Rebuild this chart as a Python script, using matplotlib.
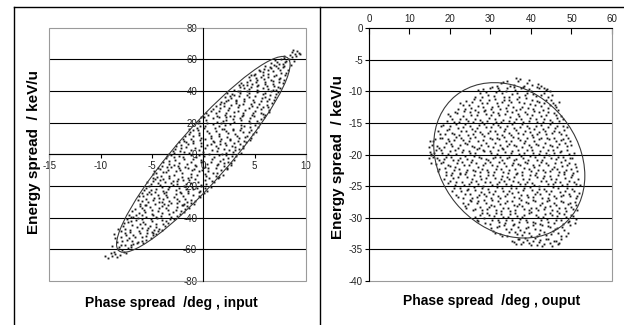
import numpy as np
import matplotlib
matplotlib.use("Agg")
import matplotlib.pyplot as plt
from matplotlib.patches import Ellipse, Rectangle
from matplotlib.lines import Line2D
from matplotlib.transforms import Affine2D

plt.rcParams["font.family"] = ["Liberation Sans", "DejaVu Sans"]
plt.rcParams["axes.unicode_minus"] = False

# ---- data ----------------------------------------------------------------
# input phase space: (phase spread deg, energy spread keV/u)
INPUT_POINTS = [
    (-7.9, -60.5), (-7.3, -59.0), (-8.2, -58.3), (-7.0, -57.2), (-7.7, -61.4), (-6.8, -56.5),
    (-8.9, -64.2), (-8.6, -63.0), (-9.3, -65.1), (-8.1, -63.6), (-8.7, -61.8), (-8.4, -55.5),
    (-8.6, -52.5), (-8.9, -57.8), (-8.7, -50.2), (-8.3, -47.1),
    (-7.9, -54.6), (-6.4, -55.1), (-5.6, -53.8), (-7.2, -53.0), (-8.0, -51.9), (-6.0, -52.3),
    (-4.9, -51.0), (-6.8, -50.6), (-7.6, -49.3), (-5.5, -49.8), (-4.4, -48.6), (-6.3, -48.4),
    (-5.9, -56.0), (-4.9, -49.9),
    (-7.6, -47.0), (-6.0, -46.6), (-4.3, -46.9), (-3.7, -45.4), (-5.2, -45.0), (-6.9, -44.8),
    (-7.7, -43.6), (-4.6, -43.9), (-3.4, -43.0), (-5.9, -42.6), (-7.0, -41.9), (-4.0, -41.5),
    (-2.9, -40.6), (-5.1, -40.9), (-6.4, -40.2), (-7.4, -40.8), (-4.0, -47.8), (-5.5, -47.7),
    (-6.8, -39.2), (-5.6, -39.5), (-4.1, -38.8), (-2.6, -38.9), (-3.3, -37.6), (-5.0, -37.4),
    (-6.3, -37.0), (-7.2, -38.0), (-1.9, -36.5), (-4.4, -35.9), (-5.8, -35.3), (-6.7, -34.6),
    (-2.7, -34.9), (-3.6, -34.0), (-1.4, -33.8), (-5.2, -33.2), (-6.2, -32.4), (-4.0, -32.6),
    (-2.1, -32.1), (-3.0, -36.2),
    (-6.2, -31.4), (-4.7, -31.0), (-3.1, -30.8), (-1.2, -30.5), (-0.8, -29.2), (-2.4, -29.6),
    (-5.4, -29.8), (-6.4, -28.7), (-3.9, -28.4), (-1.8, -27.9), (-0.3, -27.0), (-4.8, -27.3),
    (-5.9, -26.5), (-2.9, -26.8), (-1.0, -25.9), (-3.6, -25.4), (-5.1, -24.9), (-6.0, -24.3),
    (0.1, -24.6), (-2.2, -24.2), (-4.3, -30.2), (-2.0, -31.8),
    (-5.3, -23.5), (-3.9, -23.0), (-1.5, -23.2), (0.4, -22.8), (-2.7, -22.3), (-4.6, -21.7),
    (-0.6, -21.4), (-5.6, -20.9), (-3.3, -20.7), (-1.9, -20.1), (0.7, -20.4), (-4.2, -19.6),
    (-0.2, -19.0), (-5.1, -18.7), (-2.6, -18.5), (-1.2, -17.8), (1.0, -17.6), (-3.7, -17.2),
    (-4.9, -16.6), (-2.0, -16.4), (0.2, -16.2), (-5.8, -22.6), (-3.0, -16.9), (-1.0, -22.0),
    (-4.7, -15.6), (-3.3, -15.2), (-0.8, -15.4), (1.4, -15.0), (-2.1, -14.5), (-4.1, -13.9),
    (0.3, -13.6), (1.9, -12.9), (-2.9, -12.8), (-1.2, -12.3), (-4.6, -11.8), (0.9, -11.5),
    (-3.6, -10.9), (-0.4, -10.6), (1.7, -10.0), (-2.3, -9.9), (-4.2, -9.3), (-1.5, -8.8),
    (0.5, -8.5), (2.3, -8.3), (-3.1, -8.2), (-4.9, -14.8), (-0.1, -9.7), (1.2, -13.8),
    (-4.0, -7.6), (-2.5, -7.2), (-0.7, -7.4), (1.3, -7.0), (2.7, -6.7), (-3.3, -6.1),
    (-1.6, -5.8), (0.4, -5.9), (2.0, -5.4), (-3.9, -5.0), (-0.2, -4.6), (1.6, -4.1),
    (3.0, -3.6), (-2.8, -3.8), (-1.0, -3.2), (0.8, -2.8), (-3.6, -2.3), (2.4, -2.0),
    (-2.0, -1.6), (0.1, -1.2), (1.5, -0.6), (-3.1, -0.4), (3.2, -0.8), (-1.2, -0.3),
    (-2.9, 0.6), (-1.4, 0.9), (0.6, 0.5), (2.2, 1.1), (3.7, 0.8), (-2.3, 2.2),
    (-0.4, 2.6), (1.3, 2.1), (3.1, 2.8), (-2.8, 3.4), (0.2, 3.9), (2.0, 3.6),
    (3.9, 4.3), (-1.7, 4.6), (-0.2, 5.2), (1.2, 5.0), (2.8, 5.5), (-2.2, 6.0),
    (0.7, 6.4), (3.6, 6.7), (-1.0, 7.2), (2.1, 7.0), (-2.4, 7.7), (1.0, 7.8),
    (-1.9, 8.4), (-0.3, 8.8), (1.6, 8.2), (3.4, 8.6), (4.5, 9.1), (-1.2, 9.9),
    (0.7, 10.2), (2.6, 10.0), (4.1, 10.7), (-1.8, 11.3), (1.5, 11.6), (3.3, 11.9),
    (-0.4, 12.5), (4.8, 12.8), (0.6, 13.2), (2.4, 13.5), (-1.3, 14.0), (3.9, 14.3),
    (1.2, 14.8), (-0.5, 15.4), (2.9, 15.1), (4.6, 15.7), (-1.4, 15.9), (0.2, 9.5),
    (-0.6, 16.5), (1.1, 16.8), (2.9, 16.3), (4.5, 17.0), (5.3, 17.5), (0.2, 18.1),
    (2.1, 18.5), (3.7, 18.8), (-0.5, 19.5), (5.4, 19.9), (1.3, 20.3), (3.0, 20.6),
    (4.4, 21.2), (0.3, 21.8), (2.2, 22.0), (5.6, 22.6), (-0.2, 23.3), (3.6, 23.0),
    (1.5, 23.7), (4.9, 24.0), (0.9, 19.0), (2.6, 24.0),
    (0.5, 24.6), (2.1, 25.0), (3.9, 24.8), (5.8, 25.3), (1.2, 26.3), (3.0, 26.6),
    (4.8, 26.1), (6.4, 27.0), (0.7, 27.5), (2.4, 27.9), (4.1, 28.3), (5.6, 28.7),
    (1.6, 29.4), (3.4, 29.8), (6.3, 30.2), (4.7, 30.6), (1.2, 30.8), (2.7, 31.2),
    (5.4, 31.6), (3.9, 32.0), (6.7, 32.3), (2.0, 32.5),
    (1.7, 33.2), (3.2, 33.4), (4.9, 33.0), (6.2, 33.8), (2.4, 34.6), (4.0, 35.0),
    (5.7, 35.3), (7.0, 35.9), (2.1, 36.3), (3.5, 36.8), (5.0, 37.0), (6.5, 37.4),
    (2.8, 38.2), (4.4, 38.6), (6.0, 38.9), (7.3, 39.5), (3.4, 39.8), (5.3, 40.0),
    (2.3, 38.9),
    (3.0, 40.6), (4.4, 41.0), (6.3, 41.3), (7.5, 41.8), (3.6, 42.5), (5.2, 42.9),
    (6.9, 43.2), (4.3, 44.0), (6.0, 44.5), (7.8, 44.8), (3.7, 45.3), (5.1, 45.8),
    (6.8, 46.2), (4.5, 47.0), (5.9, 47.4), (7.4, 47.8), (3.9, 43.7), (7.1, 40.4),
    (4.4, 48.6), (5.6, 49.0), (6.9, 49.3), (8.0, 49.8), (5.0, 50.6), (6.3, 51.0),
    (7.6, 51.4), (5.5, 52.4), (6.8, 52.9), (8.2, 53.2), (5.9, 54.0), (7.3, 54.5),
    (6.5, 55.4), (7.9, 55.8), (4.9, 49.9),
    (6.9, 56.6), (7.8, 57.3), (7.2, 58.5), (8.1, 59.0), (7.6, 60.3), (6.6, 57.8),
    (8.6, 61.5), (8.9, 63.4), (9.1, 65.0), (8.4, 62.8), (8.8, 58.9), (9.3, 64.1),
    (8.7, 66.0), (7.9, 62.3), (8.5, 56.6),
    # second pass over the cloud
    (-7.5, -62.0), (-8.3, -59.6), (-7.0, -58.4), (-7.6, -56.9), (-6.5, -55.6), (-8.0, -57.1),
    (-7.4, -54.2), (-6.0, -54.6), (-5.1, -52.8), (-6.7, -52.1), (-7.5, -50.9), (-5.6, -51.3),
    (-4.6, -50.2), (-6.2, -49.6), (-7.1, -48.7), (-5.0, -48.9), (-8.0, -48.2), (-6.9, -54.9),
    (-7.1, -47.6), (-5.4, -46.2), (-6.5, -45.6), (-4.6, -45.6), (-3.9, -44.2), (-6.2, -43.9),
    (-7.3, -42.8), (-5.0, -42.3), (-3.6, -41.9), (-6.6, -41.3), (-4.5, -40.4), (-3.2, -41.0),
    (-7.8, -45.0), (-5.7, -44.0), (-4.8, -47.4), (-6.0, -41.0),
    (-7.0, -39.8), (-6.0, -38.5), (-4.6, -39.3), (-3.1, -39.6), (-2.3, -37.4), (-4.0, -37.0),
    (-5.7, -36.6), (-6.9, -36.0), (-3.4, -35.4), (-5.0, -34.8), (-1.8, -34.6), (-6.0, -33.9),
    (-4.3, -33.6), (-2.6, -33.1), (-1.6, -32.6), (-5.6, -32.0), (-3.4, -32.2), (-2.2, -35.8),
    (-6.6, -38.2), (-4.9, -38.1),
    (-5.7, -31.7), (-3.8, -31.3), (-2.6, -30.9), (-0.9, -31.0), (-1.6, -29.9), (-3.3, -29.4),
    (-4.9, -29.0), (-6.0, -29.5), (-5.6, -27.9), (-4.3, -27.8), (-2.6, -28.2), (-1.2, -28.6),
    (-0.4, -26.1), (-2.0, -26.3), (-3.5, -26.7), (-4.4, -25.8), (-5.5, -25.2), (-6.3, -26.1),
    (-2.7, -25.0), (-1.5, -24.5), (-0.4, -24.0), (-3.8, -24.3), (-4.0, -30.0), (-1.9, -31.2),
    (-4.7, -23.8), (-2.3, -23.6), (-0.3, -23.4), (-3.4, -22.0), (-5.1, -22.3), (-1.7, -21.8),
    (0.2, -21.2), (-2.4, -21.0), (-4.0, -20.4), (-5.3, -20.0), (-1.1, -20.6), (-3.0, -19.5),
    (0.3, -18.5), (-1.7, -18.9), (-4.4, -18.2), (-3.1, -18.0), (-0.5, -17.2), (-5.5, -17.6),
    (-2.6, -17.0), (-4.2, -16.2), (-1.4, -16.0), (0.8, -16.6), (-3.6, -23.9), (-0.2, -20.0),
    (-3.9, -15.8), (-2.5, -15.6), (-1.5, -15.1), (0.6, -14.8), (-4.5, -14.3), (-1.2, -14.1),
    (1.5, -14.0), (-3.3, -13.5), (-0.6, -13.2), (-4.9, -12.6), (-2.1, -12.0), (0.2, -12.4),
    (1.3, -11.9), (-3.9, -11.2), (-2.7, -10.6), (0.5, -10.3), (-1.1, -10.1), (-4.8, -10.2),
    (2.3, -9.4), (-3.4, -9.6), (-0.9, -9.2), (1.2, -8.8), (-2.4, -8.4), (-4.4, -8.5),
    (-3.5, -7.9), (-1.8, -7.8), (0.2, -7.7), (2.0, -7.4), (-2.9, -6.6), (-0.8, -6.4),
    (1.4, -6.2), (2.7, -5.6), (-2.4, -5.3), (-1.2, -4.8), (0.7, -4.7), (2.4, -4.5),
    (-3.3, -4.2), (-1.9, -3.0), (-0.2, -3.5), (1.9, -3.0), (-2.9, -1.8), (-0.7, -1.9),
    (1.0, -1.5), (2.8, -1.2), (-3.5, -1.1), (-0.4, -0.5), (2.2, -0.2), (-2.4, -0.8),
    (-3.3, 0.3), (-1.9, 1.4), (0.0, 1.2), (1.8, 0.3), (2.9, 1.6), (-3.0, 1.9),
    (-1.2, 2.9), (0.8, 2.9), (2.5, 2.5), (3.5, 3.3), (-2.2, 3.8), (-0.8, 4.1),
    (1.4, 4.2), (3.1, 4.5), (-2.7, 5.2), (0.4, 5.7), (2.2, 5.9), (3.9, 5.6),
    (-1.5, 6.5), (1.6, 6.6), (-0.2, 7.4), (3.0, 7.5), (4.2, 7.9), (-1.7, 7.9),
    (-1.0, 8.2), (0.9, 8.6), (2.6, 8.9), (4.0, 8.3), (-2.0, 9.6), (-0.2, 10.4),
    (1.7, 9.6), (3.5, 10.1), (4.6, 10.4), (-1.0, 11.5), (0.7, 11.9), (2.3, 11.2),
    (4.3, 11.7), (-1.4, 12.9), (1.5, 12.9), (3.1, 13.0), (5.1, 13.9), (-0.4, 13.7),
    (0.4, 14.9), (2.2, 14.6), (3.6, 15.3), (-1.0, 15.2), (1.8, 15.9), (4.4, 14.3),
    (0.1, 16.9), (2.0, 16.1), (3.7, 16.6), (-0.3, 17.6), (1.5, 17.7), (4.0, 17.9),
    (5.0, 18.4), (0.4, 19.5), (2.6, 19.3), (4.5, 19.6), (-0.4, 20.8), (1.9, 21.0),
    (3.7, 21.6), (5.2, 21.3), (0.9, 22.7), (2.9, 22.6), (4.5, 22.9), (0.1, 23.6),
    (2.2, 23.9), (3.8, 24.0), (5.9, 23.8), (1.7, 19.9),
    (1.3, 24.4), (3.0, 24.2), (4.7, 24.9), (6.0, 24.6), (0.3, 25.9), (2.2, 26.0),
    (3.9, 25.9), (5.6, 26.4), (1.5, 27.2), (3.4, 27.4), (5.0, 27.6), (6.4, 28.2),
    (0.9, 28.9), (2.5, 29.0), (4.4, 29.3), (5.8, 29.8), (2.0, 30.4), (3.5, 30.9),
    (5.2, 30.1), (6.2, 31.2), (1.6, 31.5), (4.6, 31.8), (3.2, 32.3),
    (2.2, 33.6), (4.0, 33.8), (5.6, 33.5), (6.9, 34.3), (3.2, 34.5), (4.8, 34.3),
    (6.4, 35.0), (2.7, 35.6), (4.4, 35.9), (6.0, 36.3), (3.0, 37.3), (4.3, 37.6),
    (5.8, 37.8), (7.1, 38.3), (3.6, 38.9), (5.2, 39.1), (6.6, 39.8), (4.3, 39.7),
    (2.6, 37.0),
    (3.6, 40.3), (5.2, 40.7), (6.8, 40.9), (4.0, 41.7), (5.8, 42.1), (7.3, 42.6),
    (4.6, 42.8), (3.5, 43.9), (5.3, 44.0), (6.8, 44.6), (7.4, 45.6), (4.3, 45.9),
    (6.0, 45.9), (5.2, 47.1), (6.6, 47.0), (7.9, 46.9), (4.7, 44.7), (6.2, 43.2),
    (5.1, 48.3), (6.3, 48.7), (7.5, 48.5), (4.6, 50.1), (5.8, 50.2), (7.1, 50.4),
    (8.1, 51.6), (5.8, 51.7), (6.3, 53.4), (7.5, 53.1), (5.4, 53.3), (6.6, 54.6),
    (7.8, 54.9), (7.1, 56.0), (6.0, 55.7),
    (7.4, 56.9), (8.0, 58.0), (7.0, 59.4), (7.9, 61.0), (8.3, 60.2),
    (9.0, 62.0), (8.6, 64.6), (9.4, 63.2), (-9.0, -62.5), (-9.6, -64.0), (-8.4, -64.6),
]

# output phase space
OUTPUT_POINTS = [
    (32.5, -8.7), (34.1, -8.3), (35.8, -8.9), (37.2, -8.1), (38.9, -8.6), (40.3, -9.0),
    (41.7, -8.8), (43.2, -9.4), (36.4, -7.9),
    (26.3, -10.8), (27.4, -10.2), (28.2, -9.6), (29.5, -10.6), (30.3, -9.3), (31.4, -10.1),
    (32.2, -9.8), (33.3, -10.9), (34.0, -9.4), (35.2, -10.4), (36.1, -9.7), (37.0, -10.8),
    (38.2, -9.2), (39.1, -10.3), (40.0, -9.9), (41.2, -10.7), (42.0, -9.5), (43.1, -10.2),
    (44.2, -10.9), (44.8, -9.9),
    (22.1, -12.8), (23.2, -12.1), (24.0, -11.5), (25.1, -12.6), (25.9, -11.2), (26.8, -12.3),
    (27.9, -11.8), (28.6, -12.9), (29.7, -11.4), (30.5, -12.4), (31.6, -11.9), (32.3, -12.7),
    (33.4, -11.3), (34.3, -12.2), (35.1, -11.7), (36.2, -12.9), (37.0, -11.6), (37.9, -12.4),
    (38.8, -11.1), (39.8, -12.0), (40.6, -12.8), (41.5, -11.5), (42.4, -12.3), (43.3, -11.8),
    (44.2, -12.6), (45.0, -11.3), (45.9, -12.1), (46.6, -12.9),
    (19.2, -14.6), (20.0, -13.9), (20.9, -14.9), (21.8, -13.4), (22.6, -14.3), (23.5, -13.1),
    (24.5, -14.7), (25.3, -13.8), (26.1, -14.4), (27.0, -13.2), (27.9, -14.9), (28.8, -13.6),
    (29.6, -14.2), (30.6, -13.3), (31.4, -14.8), (32.2, -13.7), (33.2, -14.5), (34.1, -13.1),
    (34.9, -14.1), (35.9, -14.8), (36.7, -13.5), (37.6, -14.3), (38.5, -13.2), (39.4, -14.7),
    (40.3, -13.8), (41.2, -14.4), (42.0, -13.3), (42.9, -14.9), (43.8, -13.7), (44.8, -14.5),
    (45.6, -13.4), (46.5, -14.2), (47.4, -13.9),
    (17.1, -16.2), (17.9, -15.5), (18.8, -16.8), (19.7, -15.9), (20.5, -16.5), (21.4, -15.2),
    (22.3, -16.9), (23.1, -15.7), (24.0, -16.3), (24.9, -15.4), (25.8, -16.7), (26.6, -15.8),
    (27.5, -16.4), (28.4, -15.1), (29.3, -16.6), (30.2, -15.6), (31.0, -16.2), (31.9, -15.3),
    (32.8, -16.9), (33.7, -15.9), (34.6, -16.5), (35.4, -15.2), (36.3, -16.1), (37.2, -15.7),
    (38.1, -16.8), (39.0, -15.4), (39.8, -16.4), (40.7, -15.9), (41.6, -16.7), (42.5, -15.3),
    (43.4, -16.2), (44.3, -15.6), (45.1, -16.6), (46.0, -15.8), (46.9, -16.4), (47.8, -15.5),
    (48.6, -16.9),
    (15.6, -18.4), (16.3, -17.6), (17.2, -18.9), (18.0, -17.3), (18.9, -18.2), (19.8, -17.8),
    (20.6, -18.7), (21.5, -17.2), (22.4, -18.5), (23.3, -17.7), (24.1, -18.3), (25.0, -17.4),
    (25.9, -18.8), (26.8, -17.9), (27.6, -18.4), (28.5, -17.1), (29.4, -18.6), (30.3, -17.6),
    (31.2, -18.1), (32.0, -17.5), (32.9, -18.9), (33.8, -17.8), (34.7, -18.3), (35.6, -17.2),
    (36.4, -18.6), (37.3, -17.7), (38.2, -18.2), (39.1, -17.4), (40.0, -18.8), (40.8, -17.9),
    (41.7, -18.5), (42.6, -17.3), (43.5, -18.1), (44.4, -17.6), (45.2, -18.7), (46.1, -17.8),
    (47.0, -18.3), (47.9, -17.5), (48.8, -18.6), (49.6, -17.9),
    (15.1, -19.6), (15.8, -20.4), (16.5, -19.2), (17.3, -20.8), (18.1, -19.7), (19.0, -20.3),
    (19.9, -19.4), (20.7, -20.9), (21.6, -19.9), (22.4, -20.5), (23.3, -19.3), (24.2, -20.7),
    (25.0, -19.8), (25.9, -20.2), (26.7, -19.1), (27.6, -20.6), (28.5, -19.5), (29.3, -20.9),
    (30.2, -19.7), (31.1, -20.4), (31.9, -19.2), (32.8, -20.8), (33.7, -19.6), (34.5, -20.3),
    (35.4, -19.4), (36.3, -20.7), (37.1, -19.9), (38.0, -20.5), (38.9, -19.3), (39.7, -20.2),
    (40.6, -19.7), (41.5, -20.8), (42.3, -19.5), (43.2, -20.4), (44.1, -19.2), (44.9, -20.6),
    (45.8, -19.8), (46.7, -20.3), (47.5, -19.4), (48.4, -20.9), (49.3, -19.9), (50.2, -20.5),
    (16.6, -21.5), (17.4, -22.3), (18.3, -21.2), (19.1, -22.8), (20.0, -21.8), (20.9, -22.4),
    (21.7, -21.3), (22.6, -22.9), (23.5, -21.7), (24.3, -22.5), (25.2, -21.1), (26.1, -22.6),
    (26.9, -21.9), (27.8, -22.2), (28.7, -21.4), (29.5, -22.8), (30.4, -21.6), (31.3, -22.3),
    (32.1, -21.2), (33.0, -22.7), (33.9, -21.8), (34.7, -22.4), (35.6, -21.3), (36.5, -22.9),
    (37.3, -21.7), (38.2, -22.1), (39.1, -21.4), (39.9, -22.6), (40.8, -21.9), (41.7, -22.5),
    (42.5, -21.2), (43.4, -22.8), (44.3, -21.6), (45.1, -22.2), (46.0, -21.4), (46.9, -22.7),
    (47.7, -21.8), (48.6, -22.4), (49.5, -21.3), (50.3, -22.9), (51.2, -22.0),
    (18.6, -23.8), (19.5, -24.5), (20.3, -23.3), (21.2, -24.8), (22.1, -23.6), (22.9, -24.3),
    (23.8, -23.1), (24.7, -24.7), (25.5, -23.9), (26.4, -24.2), (27.3, -23.4), (28.1, -24.9),
    (29.0, -23.7), (29.9, -24.4), (30.7, -23.2), (31.6, -24.6), (32.5, -23.8), (33.3, -24.1),
    (34.2, -23.5), (35.1, -24.8), (35.9, -23.6), (36.8, -24.3), (37.7, -23.3), (38.5, -24.7),
    (39.4, -23.9), (40.3, -24.5), (41.1, -23.2), (42.0, -24.9), (42.9, -23.7), (43.7, -24.2),
    (44.6, -23.4), (45.5, -24.6), (46.3, -23.8), (47.2, -24.4), (48.1, -23.1), (48.9, -24.7),
    (49.8, -23.6), (50.7, -24.3), (51.5, -23.9), (52.0, -24.8),
    (20.6, -25.7), (21.5, -26.4), (22.4, -25.2), (23.2, -26.8), (24.1, -25.6), (25.0, -26.3),
    (25.9, -25.1), (26.7, -26.7), (27.6, -25.9), (28.5, -26.2), (29.3, -25.4), (30.2, -26.9),
    (31.1, -25.8), (31.9, -26.5), (32.8, -25.3), (33.7, -26.6), (34.5, -25.7), (35.4, -26.1),
    (36.3, -25.2), (37.1, -26.8), (38.0, -25.6), (38.9, -26.4), (39.7, -25.1), (40.6, -26.7),
    (41.5, -25.9), (42.3, -26.2), (43.2, -25.4), (44.1, -26.9), (44.9, -25.8), (45.8, -26.5),
    (46.7, -25.3), (47.5, -26.6), (48.4, -25.7), (49.3, -26.3), (50.1, -25.5), (51.0, -26.8),
    (51.8, -26.0),
    (23.1, -27.6), (24.0, -28.4), (24.9, -27.2), (25.7, -28.8), (26.6, -27.7), (27.5, -28.3),
    (28.3, -27.1), (29.2, -28.6), (30.1, -27.9), (30.9, -28.2), (31.8, -27.4), (32.7, -28.9),
    (33.5, -27.6), (34.4, -28.5), (35.3, -27.3), (36.1, -28.7), (37.0, -27.8), (37.9, -28.1),
    (38.7, -27.5), (39.6, -28.8), (40.5, -27.2), (41.3, -28.4), (42.2, -27.9), (43.1, -28.6),
    (43.9, -27.4), (44.8, -28.2), (45.7, -27.7), (46.5, -28.9), (47.4, -27.3), (48.3, -28.5),
    (49.1, -27.8), (50.0, -28.3), (50.9, -27.5), (51.4, -28.7),
    (26.1, -29.8), (27.0, -30.5), (27.9, -29.3), (28.7, -30.8), (29.6, -29.6), (30.5, -30.3),
    (31.3, -29.2), (32.2, -30.7), (33.1, -29.9), (33.9, -30.4), (34.8, -29.4), (35.7, -30.9),
    (36.5, -29.7), (37.4, -30.2), (38.3, -29.5), (39.1, -30.6), (40.0, -29.1), (40.9, -30.8),
    (41.7, -29.8), (42.6, -30.3), (43.5, -29.4), (44.3, -30.7), (45.2, -29.6), (46.1, -30.4),
    (46.9, -29.2), (47.8, -30.9), (48.7, -29.9), (49.5, -30.5), (50.4, -29.7), (51.0, -30.2),
    (30.2, -31.6), (31.1, -32.4), (32.0, -31.3), (32.9, -32.8), (33.8, -31.7), (34.7, -32.3),
    (35.6, -31.2), (36.5, -32.6), (37.4, -31.9), (38.3, -32.2), (39.2, -31.4), (40.1, -32.9),
    (41.0, -31.8), (41.9, -32.5), (42.8, -31.1), (43.7, -32.7), (44.6, -31.5), (45.5, -32.1),
    (46.4, -31.6), (47.3, -32.8), (48.2, -31.9), (49.1, -32.4), (49.6, -31.2),
    (35.3, -33.6), (36.2, -34.1), (37.1, -33.3), (38.1, -33.9), (39.0, -33.5), (40.0, -34.3),
    (40.9, -33.2), (41.9, -33.8), (42.8, -34.4), (43.8, -33.4), (44.7, -34.0), (45.6, -33.6),
    (46.6, -34.2), (47.5, -33.3),
    (14.8, -18.8), (15.2, -19.9), (14.9, -20.6), (15.4, -21.3), (15.0, -17.9),
    # second pass over the cloud
    (31.6, -9.2), (33.0, -8.5), (34.9, -9.1), (36.8, -8.4), (38.1, -9.3), (39.6, -8.2),
    (42.4, -9.1), (44.0, -9.6),
    (26.8, -9.8), (27.9, -10.9), (28.9, -10.1), (29.9, -9.5), (30.8, -10.7), (31.9, -9.4),
    (32.8, -10.3), (33.8, -9.9), (34.6, -10.8), (35.7, -9.3), (36.6, -10.2), (37.5, -9.5),
    (38.6, -10.6), (39.5, -9.6), (40.6, -10.4), (41.6, -9.3), (42.6, -10.5), (43.6, -9.7),
    (45.3, -10.5),
    (22.6, -11.9), (23.6, -12.7), (24.6, -12.2), (25.5, -11.6), (26.3, -12.9), (27.3, -11.4),
    (28.2, -12.5), (29.1, -11.9), (30.1, -12.8), (31.0, -11.2), (31.9, -12.3), (32.8, -11.6),
    (33.9, -12.6), (34.7, -11.4), (35.6, -12.4), (36.6, -11.2), (37.4, -12.8), (38.4, -11.9),
    (39.3, -12.6), (40.2, -11.4), (41.0, -12.2), (41.9, -11.7), (42.9, -12.9), (43.7, -11.3),
    (44.6, -12.1), (45.5, -11.8), (46.3, -12.5), (47.0, -11.6),
    (19.6, -13.6), (20.5, -14.3), (21.3, -13.2), (22.2, -14.8), (23.1, -13.9), (24.0, -14.4),
    (24.9, -13.3), (25.8, -14.9), (26.6, -13.7), (27.5, -14.5), (28.3, -13.1), (29.2, -14.7),
    (30.1, -13.8), (31.0, -14.3), (31.8, -13.4), (32.7, -14.9), (33.6, -13.6), (34.5, -14.6),
    (35.4, -13.3), (36.3, -14.4), (37.1, -13.9), (38.0, -14.8), (38.9, -13.5), (39.8, -14.2),
    (40.7, -13.1), (41.6, -14.8), (42.5, -13.9), (43.3, -14.3), (44.3, -13.2), (45.2, -14.8),
    (46.1, -13.7), (47.0, -14.6), (47.8, -14.3),
    (17.5, -16.7), (18.4, -15.3), (19.2, -16.1), (20.1, -15.4), (21.0, -16.8), (21.9, -15.8),
    (22.7, -16.3), (23.6, -15.1), (24.5, -16.9), (25.4, -15.9), (26.2, -16.2), (27.1, -15.3),
    (28.0, -16.8), (28.9, -15.7), (29.8, -16.2), (30.6, -15.1), (31.5, -16.7), (32.4, -15.6),
    (33.3, -16.3), (34.1, -15.4), (35.0, -16.9), (35.9, -15.8), (36.8, -16.6), (37.7, -15.2),
    (38.5, -16.3), (39.4, -15.8), (40.3, -16.9), (41.2, -15.5), (42.0, -16.4), (42.9, -15.9),
    (43.8, -16.8), (44.7, -15.2), (45.6, -16.3), (46.4, -15.4), (47.3, -16.8), (48.2, -16.1),
    (49.0, -15.6),
    (15.9, -17.9), (16.8, -18.6), (17.6, -17.4), (18.5, -18.8), (19.4, -17.5), (20.2, -18.3),
    (21.1, -17.7), (22.0, -18.9), (22.8, -17.4), (23.7, -18.2), (24.6, -17.8), (25.5, -18.6),
    (26.3, -17.2), (27.2, -18.9), (28.1, -17.7), (28.9, -18.2), (29.8, -17.3), (30.7, -18.8),
    (31.6, -17.4), (32.4, -18.4), (33.3, -17.2), (34.2, -18.7), (35.1, -17.9), (35.9, -18.4),
    (36.8, -17.3), (37.7, -18.8), (38.6, -17.8), (39.5, -18.5), (40.4, -17.2), (41.2, -18.3),
    (42.1, -17.6), (43.0, -18.8), (43.9, -17.3), (44.8, -18.4), (45.6, -17.4), (46.5, -18.8),
    (47.4, -17.7), (48.3, -18.2), (49.2, -17.3), (50.0, -18.5),
    (15.4, -20.1), (16.1, -19.8), (16.9, -20.5), (17.7, -19.3), (18.6, -20.7), (19.4, -19.9),
    (20.3, -20.3), (21.2, -19.2), (22.0, -20.8), (22.9, -19.6), (23.8, -20.2), (24.6, -19.4),
    (25.5, -20.9), (26.3, -19.7), (27.2, -20.4), (28.1, -19.2), (28.9, -20.7), (29.8, -19.4),
    (30.7, -20.5), (31.5, -19.9), (32.4, -20.3), (33.2, -19.1), (34.1, -20.6), (35.0, -19.8),
    (35.8, -20.8), (36.7, -19.3), (37.6, -20.2), (38.4, -19.7), (39.3, -20.9), (40.2, -19.2),
    (41.0, -20.3), (41.9, -19.9), (42.8, -20.8), (43.6, -19.7), (44.5, -20.1), (45.4, -19.3),
    (46.2, -20.7), (47.1, -19.6), (48.0, -20.4), (48.8, -19.2), (49.7, -20.6), (50.6, -19.8),
    (17.0, -22.6), (17.8, -21.4), (18.7, -22.1), (19.6, -21.6), (20.4, -22.9), (21.3, -21.9),
    (22.2, -22.2), (23.0, -21.2), (23.9, -22.7), (24.8, -21.6), (25.6, -22.4), (26.5, -21.3),
    (27.4, -22.8), (28.2, -21.7), (29.1, -22.5), (30.0, -21.2), (30.8, -22.7), (31.7, -21.8),
    (32.6, -22.3), (33.4, -21.4), (34.3, -22.9), (35.2, -21.7), (36.0, -22.2), (36.9, -21.5),
    (37.8, -22.8), (38.6, -21.2), (39.5, -22.3), (40.4, -21.7), (41.2, -22.9), (42.1, -21.6),
    (43.0, -22.4), (43.8, -21.3), (44.7, -22.6), (45.6, -21.9), (46.4, -22.3), (47.3, -21.2),
    (48.2, -22.8), (49.0, -21.7), (49.9, -22.2), (50.8, -21.5), (51.4, -22.6),
    (19.0, -23.2), (19.9, -24.2), (20.8, -23.7), (21.6, -24.4), (22.5, -23.1), (23.4, -24.8),
    (24.2, -23.6), (25.1, -24.4), (26.0, -23.3), (26.8, -24.7), (27.7, -23.9), (28.6, -24.3),
    (29.4, -23.2), (30.3, -24.8), (31.2, -23.7), (32.0, -24.3), (32.9, -23.4), (33.8, -24.6),
    (34.6, -23.8), (35.5, -24.2), (36.4, -23.1), (37.2, -24.7), (38.1, -23.9), (39.0, -24.4),
    (39.8, -23.3), (40.7, -24.8), (41.6, -23.6), (42.4, -24.2), (43.3, -23.4), (44.2, -24.7),
    (45.0, -23.9), (45.9, -24.3), (46.8, -23.2), (47.6, -24.8), (48.5, -23.7), (49.4, -24.2),
    (50.2, -23.3), (51.1, -24.6),
    (21.0, -25.3), (21.9, -26.7), (22.8, -25.8), (23.7, -26.2), (24.5, -25.4), (25.4, -26.8),
    (26.3, -25.6), (27.1, -26.4), (28.0, -25.2), (28.9, -26.6), (29.7, -25.9), (30.6, -26.3),
    (31.5, -25.1), (32.4, -26.8), (33.2, -25.8), (34.1, -26.2), (35.0, -25.3), (35.8, -26.7),
    (36.7, -25.9), (37.6, -26.4), (38.4, -25.2), (39.3, -26.7), (40.2, -25.6), (41.0, -26.3),
    (41.9, -25.4), (42.8, -26.9), (43.6, -25.7), (44.5, -26.2), (45.4, -25.1), (46.2, -26.8),
    (47.1, -25.9), (48.0, -26.4), (48.8, -25.3), (49.7, -26.6), (50.6, -25.8), (51.4, -26.5),
    (23.6, -28.1), (24.5, -27.8), (25.3, -27.3), (26.2, -28.6), (27.0, -27.4), (27.9, -28.8),
    (28.8, -27.6), (29.7, -28.3), (30.5, -27.2), (31.4, -28.7), (32.3, -27.8), (33.1, -28.4),
    (34.0, -27.3), (34.9, -28.9), (35.7, -27.9), (36.6, -28.2), (37.5, -27.1), (38.3, -28.6),
    (39.2, -27.7), (40.1, -28.5), (40.9, -27.4), (41.8, -28.8), (42.7, -27.6), (43.5, -28.3),
    (44.4, -27.2), (45.3, -28.7), (46.1, -27.9), (47.0, -28.4), (47.9, -27.5), (48.7, -28.9),
    (49.6, -27.7), (50.5, -28.6), (51.1, -28.0),
    (26.6, -30.3), (27.4, -29.5), (28.3, -30.1), (29.2, -29.2), (30.0, -30.9), (30.9, -29.7),
    (31.8, -30.4), (32.6, -29.4), (33.5, -30.8), (34.4, -29.9), (35.2, -30.3), (36.1, -29.2),
    (37.0, -30.7), (37.8, -29.8), (38.7, -30.4), (39.6, -29.3), (40.4, -30.6), (41.3, -29.6),
    (42.2, -30.9), (43.0, -29.8), (43.9, -30.2), (44.8, -29.3), (45.6, -30.8), (46.5, -29.7),
    (47.4, -30.4), (48.2, -29.4), (49.1, -30.7), (50.0, -29.5), (50.8, -30.8),
    (30.7, -32.1), (31.6, -31.5), (32.4, -32.6), (33.3, -31.2), (34.2, -32.9), (35.1, -31.8),
    (36.0, -32.3), (36.9, -31.4), (37.8, -32.7), (38.7, -31.6), (39.6, -32.4), (40.5, -31.2),
    (41.4, -32.8), (42.3, -31.9), (43.2, -32.3), (44.1, -31.3), (45.0, -32.6), (45.9, -31.7),
    (46.8, -32.4), (47.7, -31.4), (48.6, -32.9),
    (35.8, -33.9), (36.7, -33.4), (37.6, -34.2), (38.6, -33.2), (39.5, -34.0), (40.4, -33.6),
    (41.4, -34.3), (42.3, -33.5), (43.3, -34.1), (44.2, -33.3), (45.2, -34.4), (46.1, -33.7),
    (47.0, -34.0),
]

# fitted emittance ellipses: centre, half extent in phase / energy, phase lag (deg)
ELLIPSE_IN_CENTER = (0.0, 0.0)
ELLIPSE_IN_EXTENT = (8.45, 61.8)
ELLIPSE_IN_LAG = 23.5
ELLIPSE_OUT_CENTER = (34.65, -20.9)
ELLIPSE_OUT_EXTENT = (18.65, 12.3)
ELLIPSE_OUT_LAG = 101.5

IN_XTICKS = [-15, -10, -5, 0, 5, 10]
IN_YTICKS = [-80, -60, -40, -20, 0, 20, 40, 60, 80]
OUT_XTICKS = [0, 10, 20, 30, 40, 50, 60]
OUT_YTICKS = [-40, -35, -30, -25, -20, -15, -10, -5, 0]

GRAY = "#9a9a9a"
TICK_FS = 7
LABEL_FS = 10
DOT = dict(marker="s", linestyle="none", ms=1.35, mew=0, color="#1a1a1a", zorder=3)


def draw_ellipse(ax, center, extent, lag_deg):
    a, b = extent
    lag = np.deg2rad(lag_deg)
    mtx = np.array([[a, 0.0, center[0]],
                    [b * np.cos(lag), -b * np.sin(lag), center[1]],
                    [0.0, 0.0, 1.0]])
    circle = Ellipse((0, 0), 2, 2, fill=False, edgecolor="#3a3a3a", linewidth=0.8,
                     transform=Affine2D(mtx) + ax.transData, zorder=4)
    ax.add_patch(circle)


def frame(ax):
    ax.add_patch(Rectangle((0, 0), 1, 1, transform=ax.transAxes, fill=False,
                           edgecolor=GRAY, linewidth=0.8, clip_on=False, zorder=1))


fig = plt.figure(figsize=(6.24, 3.25), dpi=100)

# ---- left: input ------------------------------------------------------
ax1 = fig.add_axes([0.079, 0.1348, 0.4114, 0.7803])
px, py = np.array(INPUT_POINTS).T
ax1.plot(px, py, **DOT)
draw_ellipse(ax1, ELLIPSE_IN_CENTER, ELLIPSE_IN_EXTENT, ELLIPSE_IN_LAG)
ax1.set_xlim(IN_XTICKS[0], IN_XTICKS[-1])
ax1.set_ylim(IN_YTICKS[0], IN_YTICKS[-1])
ax1.set_xticks(IN_XTICKS)
ax1.set_yticks(IN_YTICKS)
ax1.spines["left"].set_position(("data", 0))
ax1.spines["bottom"].set_position(("data", 0))
for s in ("left", "bottom"):
    ax1.spines[s].set_color("black")
    ax1.spines[s].set_linewidth(0.8)
for s in ("top", "right"):
    ax1.spines[s].set_visible(False)
frame(ax1)
ax1.yaxis.grid(True, color="black", linewidth=0.8)
gl = ax1.get_ygridlines()
gl[0].set_visible(False)
gl[-1].set_visible(False)
ax1.set_axisbelow(True)
ax1.tick_params(direction="out", length=3, width=0.8, labelsize=TICK_FS, pad=1.5,
                colors="black", labelcolor="#222222")

# ---- right: output ----------------------------------------------------
ax2 = fig.add_axes([0.5913, 0.1354, 0.3894, 0.7775])
qx, qy = np.array(OUTPUT_POINTS).T
ax2.plot(qx, qy, **DOT)
draw_ellipse(ax2, ELLIPSE_OUT_CENTER, ELLIPSE_OUT_EXTENT, ELLIPSE_OUT_LAG)
ax2.set_xlim(OUT_XTICKS[0], OUT_XTICKS[-1])
ax2.set_ylim(OUT_YTICKS[0], OUT_YTICKS[-1])
ax2.set_xticks(OUT_XTICKS)
ax2.set_yticks(OUT_YTICKS)
ax2.xaxis.tick_top()
for s in ("left", "top"):
    ax2.spines[s].set_color("black")
    ax2.spines[s].set_linewidth(0.8)
for s in ("bottom", "right"):
    ax2.spines[s].set_visible(False)
frame(ax2)
ax2.yaxis.grid(True, color="black", linewidth=0.8)
gl = ax2.get_ygridlines()
gl[0].set_visible(False)
gl[-1].set_visible(False)
ax2.set_axisbelow(True)
ax2.tick_params(axis="x", direction="in", length=4, width=0.8, labelsize=TICK_FS,
                pad=3, top=True, bottom=False, labeltop=True, labelbottom=False,
                labelcolor="#222222")
ax2.tick_params(axis="y", direction="out", length=3, width=0.8, labelsize=TICK_FS,
                pad=1.5, labelcolor="#222222")

# ---- labels -----------------------------------------------------------
fig.text(0.0545, 0.532, "Energy spread  / keV/u", rotation=90, ha="center", va="center",
         fontsize=11, fontweight="bold")
fig.text(0.274, 0.068, "Phase spread  /deg , input", ha="center", va="center",
         fontsize=LABEL_FS, fontweight="bold")
fig.text(0.5417, 0.517, "Energy spread  / keV/u", rotation=90, ha="center", va="center",
         fontsize=11, fontweight="bold")
fig.text(0.788, 0.074, "Phase spread  /deg , ouput", ha="center", va="center",
         fontsize=LABEL_FS, fontweight="bold")

# ---- panel frames -----------------------------------------------------
for xs, ys in [([0.0224, 1.0], [0.9785, 0.9785]),
               ([0.0224, 0.0224], [0.0, 0.9785]),
               ([0.5128, 0.5128], [0.0, 0.9785])]:
    fig.add_artist(Line2D(xs, ys, transform=fig.transFigure, color="black", linewidth=1.0))

fig.savefig("out.png", dpi=100)
